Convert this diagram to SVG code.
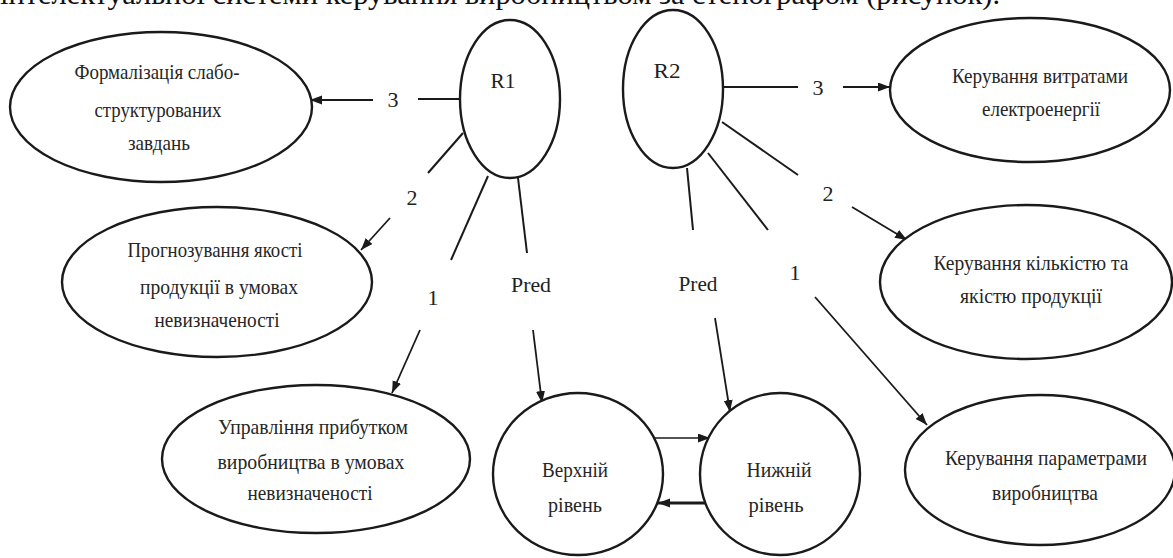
<svg xmlns="http://www.w3.org/2000/svg" width="1173" height="558" viewBox="0 0 1173 558">
  <defs>
    <marker id="arrow" markerUnits="userSpaceOnUse" markerWidth="13" markerHeight="10" refX="12" refY="4.5" orient="auto">
      <path d="M0,0 L12,4.5 L0,9 z" fill="#1a1a1a"/>
    </marker>
    <style>
      .node { fill: #ffffff; stroke: #1a1a1a; stroke-width: 2.4; }
      .ln { stroke: #1a1a1a; stroke-width: 2; fill: none; }
      .arr { stroke: #1a1a1a; stroke-width: 1.8; fill: none; marker-end: url(#arrow); }
    </style>
  </defs>
  <rect width="1173" height="558" fill="#ffffff"/>

  <!-- running text line of the page above the figure -->
  <text x="0" y="4" font-family="'Liberation Serif', serif" font-size="30" fill="#111" textLength="1000" lengthAdjust="spacingAndGlyphs">інтелектуальної системи керування виробництвом за стенографом (рисунок).</text>

  <!-- connectors -->
  <g id="connectors">
    <g font-family="'Liberation Serif', serif" font-size="22" fill="#222" text-anchor="middle">
      <text x="393" y="107">3</text>
      <text x="412" y="205">2</text>
      <text x="433" y="305">1</text>
      <text x="531" y="292" textLength="40" lengthAdjust="spacingAndGlyphs">Pred</text>
      <text x="818" y="95">3</text>
      <text x="828" y="201">2</text>
      <text x="795" y="280">1</text>
      <text x="698" y="291" textLength="39" lengthAdjust="spacingAndGlyphs">Pred</text>
    </g>
    <!-- R1 branches -->
    <line class="ln" x1="462" y1="99" x2="418" y2="99"/>
    <line class="arr" x1="373" y1="100" x2="310" y2="100"/>
    <line class="ln" x1="463" y1="133" x2="428" y2="173"/>
    <line class="arr" x1="390" y1="218" x2="361" y2="250"/>
    <line class="ln" x1="488" y1="176" x2="451" y2="260"/>
    <line class="arr" x1="420" y1="330" x2="392" y2="393"/>
    <line class="ln" x1="518" y1="178" x2="527" y2="253"/>
    <line class="arr" x1="533" y1="330" x2="542" y2="403"/>

    <!-- R2 branches -->
    <line class="ln" x1="723" y1="87" x2="798" y2="87"/>
    <line class="arr" x1="843" y1="87" x2="890" y2="87"/>
    <line class="ln" x1="722" y1="122" x2="798" y2="175"/>
    <line class="arr" x1="852" y1="207" x2="907" y2="240"/>
    <line class="ln" x1="708" y1="153" x2="768" y2="230"/>
    <line class="arr" x1="815" y1="297" x2="927" y2="425"/>
    <line class="ln" x1="687" y1="168" x2="693" y2="230"/>
    <line class="arr" x1="715" y1="318" x2="730" y2="412"/>

    <!-- exchange between levels -->
    <line class="arr" style="stroke-width:1.5" x1="653" y1="438" x2="710" y2="438"/>
    <line class="arr" style="stroke-width:2.8" x1="707" y1="503" x2="658" y2="503"/>
  </g>

  <g font-family="'Liberation Serif', serif" font-size="22" fill="#222" text-anchor="middle">
    <!-- R1 -->
    <g id="r1">
      <ellipse class="node" cx="510" cy="99" rx="50" ry="79"/>
      <text x="503" y="88" textLength="25" lengthAdjust="spacingAndGlyphs">R1</text>
    </g>
    <!-- R2 -->
    <g id="r2">
      <ellipse class="node" cx="673" cy="89" rx="50" ry="79"/>
      <text x="667" y="78" textLength="27" lengthAdjust="spacingAndGlyphs">R2</text>
    </g>
  </g>

  <g font-family="'Liberation Serif', serif" font-size="21" fill="#262626" text-anchor="middle" lengthAdjust="spacingAndGlyphs">
    <g id="formalization">
      <ellipse class="node" cx="161" cy="107" rx="151" ry="75"/>
      <text x="157" y="79" textLength="165" lengthAdjust="spacingAndGlyphs">Формалізація слабо-</text>
      <text x="158" y="117" textLength="127" lengthAdjust="spacingAndGlyphs">структурованих</text>
      <text x="159" y="150" textLength="62" lengthAdjust="spacingAndGlyphs">завдань</text>
    </g>

    <g id="forecast">
      <ellipse class="node" cx="217" cy="282" rx="155" ry="75"/>
      <text x="215" y="257" textLength="175" lengthAdjust="spacingAndGlyphs">Прогнозування якості</text>
      <text x="219" y="294" textLength="158" lengthAdjust="spacingAndGlyphs">продукції в умовах</text>
      <text x="217" y="327" textLength="125" lengthAdjust="spacingAndGlyphs">невизначеності</text>
    </g>

    <g id="profit">
      <ellipse class="node" cx="316" cy="459" rx="154" ry="74"/>
      <text x="313" y="434" textLength="190" lengthAdjust="spacingAndGlyphs">Управління прибутком</text>
      <text x="311" y="469" textLength="187" lengthAdjust="spacingAndGlyphs">виробництва в умовах</text>
      <text x="310" y="500" textLength="125" lengthAdjust="spacingAndGlyphs">невизначеності</text>
    </g>

    <g id="energy">
      <ellipse class="node" cx="1030" cy="90" rx="140" ry="72"/>
      <text x="1040" y="83" textLength="176" lengthAdjust="spacingAndGlyphs">Керування витратами</text>
      <text x="1041" y="116" textLength="118" lengthAdjust="spacingAndGlyphs">електроенергії</text>
    </g>

    <g id="quantity">
      <ellipse class="node" cx="1026" cy="282" rx="146" ry="77"/>
      <text x="1031" y="270" textLength="195" lengthAdjust="spacingAndGlyphs">Керування кількістю та</text>
      <text x="1031" y="303" textLength="142" lengthAdjust="spacingAndGlyphs">якістю продукції</text>
    </g>

    <g id="parameters">
      <ellipse class="node" cx="1040" cy="470" rx="135" ry="75"/>
      <text x="1046" y="465" textLength="202" lengthAdjust="spacingAndGlyphs">Керування параметрами</text>
      <text x="1045" y="500" textLength="106" lengthAdjust="spacingAndGlyphs">виробництва</text>
    </g>

    <g id="upper">
      <ellipse class="node" cx="578" cy="474" rx="85" ry="81"/>
      <text x="575" y="477" textLength="66" lengthAdjust="spacingAndGlyphs">Верхній</text>
      <text x="575" y="512" textLength="54" lengthAdjust="spacingAndGlyphs">рівень</text>
    </g>

    <g id="lower">
      <ellipse class="node" cx="780" cy="474" rx="80" ry="81"/>
      <text x="779" y="477" textLength="65" lengthAdjust="spacingAndGlyphs">Нижній</text>
      <text x="776" y="512" textLength="55" lengthAdjust="spacingAndGlyphs">рівень</text>
    </g>
  </g>
</svg>
